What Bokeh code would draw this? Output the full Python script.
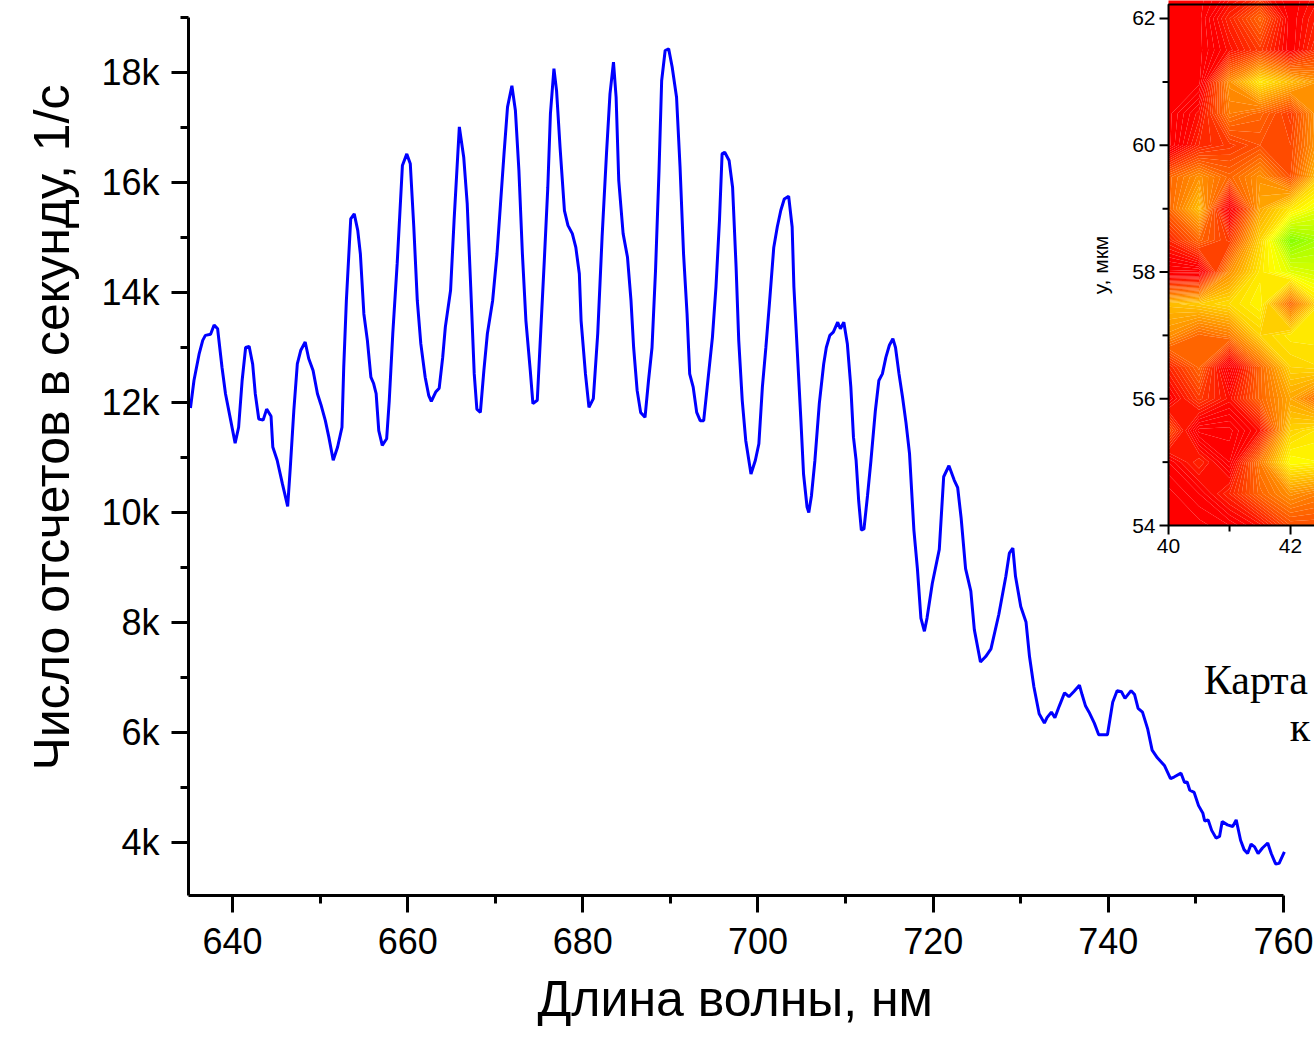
import numpy as np
from bokeh.plotting import figure
from bokeh.models import Range1d, FixedTicker, Label, Title
from bokeh.embed import file_html
from bokeh.resources import INLINE
from bokeh.core.properties import value

# ---------------- data: spectrum ----------------
WAVELENGTH = [
    635.2, 635.6, 636.2, 636.6, 636.9, 637.5, 637.9, 638.3, 638.8, 639.2, 639.8, 640.3, 640.7,
    641.1, 641.5, 641.9, 642.3, 642.6, 643.0, 643.5, 643.9, 644.4, 644.6, 645.1, 645.7, 646.3,
    646.6, 647.0, 647.4, 647.8, 648.3, 648.7, 649.2, 649.7, 650.1, 650.6, 651.0, 651.5, 652.0,
    652.5, 652.7, 653.0, 653.5, 653.9, 654.3, 654.6, 655.0, 655.4, 655.8, 656.1, 656.4, 656.7,
    657.1, 657.6, 657.9, 658.3, 658.8, 659.4, 659.9, 660.3, 660.7, 661.1, 661.5, 662.0, 662.4,
    662.7, 663.2, 663.6, 664.0, 664.3, 664.9, 665.3, 665.9, 666.4, 666.8, 667.2, 667.6, 667.9,
    668.3, 668.7, 669.1, 669.7, 670.2, 670.6, 671.0, 671.4, 671.9, 672.3, 672.7, 673.1, 673.5,
    674.0, 674.3, 674.8, 675.2, 675.6, 676.0, 676.3, 676.7, 677.0, 677.4, 677.9, 678.3, 678.8,
    679.2, 679.6, 679.8, 680.3, 680.7, 681.2, 681.7, 682.2, 682.7, 683.1, 683.5, 683.8, 684.1,
    684.6, 685.1, 685.5, 685.8, 686.2, 686.6, 687.1, 687.5, 687.9, 688.3, 688.7, 689.0, 689.4,
    689.8, 690.2, 690.7, 691.1, 691.5, 691.9, 692.2, 692.6, 693.0, 693.4, 693.8, 694.2, 694.8,
    695.2, 695.6, 695.9, 696.2, 696.7, 697.1, 697.5, 697.8, 698.2, 698.6, 699.2, 699.7, 700.1,
    700.5, 700.9, 701.3, 701.8, 702.2, 702.6, 703.0, 703.5, 703.9, 704.1, 704.5, 704.9, 705.2,
    705.6, 705.8, 706.1, 706.5, 707.0, 707.5, 707.8, 708.2, 708.6, 709.1, 709.4, 709.8, 710.2,
    710.6, 710.9, 711.2, 711.5, 711.8, 712.1, 712.5, 712.9, 713.4, 713.8, 714.2, 714.6, 715.0,
    715.4, 715.7, 716.1, 716.5, 716.9, 717.3, 717.8, 718.2, 718.6, 719.0, 719.3, 719.9, 720.7,
    721.2, 721.8, 722.4, 722.8, 723.2, 723.7, 724.3, 724.7, 725.4, 726.0, 726.6, 727.5, 728.3,
    728.7, 729.1, 729.4, 730.0, 730.6, 731.0, 731.5, 732.1, 732.7, 733.0, 733.5, 733.9, 734.4,
    735.0, 735.5, 736.1, 736.7, 737.0, 737.4, 737.8, 738.4, 738.9, 739.9, 740.5, 741.0, 741.5,
    741.9, 742.6, 743.0, 743.4, 743.9, 744.5, 745.0, 745.6, 746.4, 747.1, 747.5, 748.3, 748.7,
    749.0, 749.3, 749.8, 750.3, 750.8, 751.0, 751.4, 751.8, 752.3, 752.7, 753.0, 753.6, 754.2,
    754.6, 755.1, 755.5, 755.9, 756.3, 756.7, 757.1, 757.6, 758.2, 758.6, 759.1, 759.5, 760.1,
]
COUNTS = [
    11900, 12400, 12890, 13130, 13220, 13240, 13410, 13340, 12640, 12160, 11670, 11260, 11550,
    12400, 13000, 13020, 12700, 12160, 11700, 11680, 11880, 11750, 11190, 10950, 10520, 10110,
    10820, 11850, 12700, 12950, 13100, 12800, 12580, 12160, 11960, 11670, 11370, 10950, 11190,
    11550, 12640, 13850, 15340, 15430, 15130, 14700, 13610, 13130, 12460, 12350, 12160, 11490,
    11220, 11340, 12040, 13250, 14520, 16310, 16520, 16340, 15190, 13850, 13070, 12460, 12130,
    12020, 12190, 12260, 12820, 13370, 14040, 15310, 17010, 16460, 15610, 14100, 12520, 11880,
    11820, 12580, 13250, 13850, 14700, 15610, 16520, 17370, 17760, 17310, 16220, 14700, 13490,
    12580, 11980, 12040, 13310, 14580, 15910, 17250, 18070, 17670, 16640, 15490, 15220, 15070,
    14820, 14340, 13490, 12520, 11910, 12070, 13250, 15010, 16520, 17610, 18190, 17550, 16040,
    15070, 14640, 13850, 13000, 12220, 11820, 11730, 12400, 13000, 14400, 16220, 17850, 18400,
    18430, 18100, 17550, 16280, 14700, 13610, 12520, 12280, 11820, 11670, 11670, 12280, 13190,
    14100, 15310, 16520, 16550, 16400, 15910, 14460, 13130, 12040, 11310, 10700, 10950, 11250,
    12280, 13000, 13790, 14820, 15190, 15490, 15700, 15750, 15190, 14100, 12890, 11670, 10700,
    10100, 10000, 10300, 10950, 11980, 12700, 13000, 13220, 13280, 13460, 13340, 13460, 13070,
    12280, 11370, 10950, 10200, 9680, 9700, 10300, 10950, 11850, 12400, 12520, 12820, 13040,
    13160, 13000, 12520, 12100, 11630, 11070, 9680, 8980, 8080, 7840, 8080, 8710, 9330,
    10650, 10850, 10590, 10450, 9890, 8980, 8570, 7870, 7280, 7380, 7520, 8150, 8840,
    9260, 9350, 8840, 8290, 8010, 7380, 6830, 6340, 6170, 6270, 6370, 6270, 6480,
    6720, 6650, 6750, 6860, 6690, 6480, 6370, 6170, 5960, 5960, 6550, 6760, 6740,
    6620, 6760, 6690, 6440, 6370, 6060, 5680, 5540, 5400, 5160, 5190, 5260, 5090,
    5100, 4950, 4910, 4670, 4530, 4390, 4410, 4220, 4080, 4110, 4380, 4320, 4290,
    4410, 4040, 3870, 3800, 3970, 3920, 3800, 3900, 3990, 3800, 3610, 3620, 3830,
]

X_TICKS = [640, 660, 680, 700, 720, 740, 760]
X_TICK_LABELS = ["640", "660", "680", "700", "720", "740", "760"]
X_MINOR_TICKS = [650, 670, 690, 710, 730, 750]
Y_TICKS = [4000, 6000, 8000, 10000, 12000, 14000, 16000, 18000]
Y_TICK_LABELS = ["4k", "6k", "8k", "10k", "12k", "14k", "16k", "18k"]
Y_MINOR_TICKS = [3000, 5000, 7000, 9000, 11000, 13000, 15000, 17000, 19000]

X_TITLE = "Длина волны, нм"
Y_TITLE = "Число отсчетов в секунду, 1/с"

# ---------------- data: intensity map (inset) ----------------
MAP_X = [40.0, 40.5, 41.0, 41.5, 42.0, 42.5]
MAP_Y = [54.0, 54.5, 55.0, 55.5, 56.0, 56.5, 57.0, 57.5, 58.0,
         58.5, 59.0, 59.5, 60.0, 60.5, 61.0, 61.5, 62.0, 62.5]
MAP_Z = [
    [5, 5, 8, 15, 30, 30],
    [5, 10, 20, 35, 45, 40],
    [10, 20, 8, 40, 70, 68],
    [30, 5, 5, 15, 60, 65],
    [10, 25, 15, 35, 50, 35],
    [20, 35, 5, 35, 60, 62],
    [45, 35, 40, 60, 65, 65],
    [55, 58, 62, 68, 35, 65],
    [5, 5, 45, 65, 75, 78],
    [20, 35, 25, 60, 92, 85],
    [35, 55, 5, 50, 65, 75],
    [35, 45, 35, 45, 30, 60],
    [5, 20, 25, 30, 28, 50],
    [5, 15, 40, 35, 25, 50],
    [5, 5, 45, 65, 55, 45],
    [5, 5, 15, 25, 10, 25],
    [5, 5, 20, 35, 10, 20],
    [5, 5, 10, 15, 10, 15],
]
MAP_X_TICKS = [40, 42]
MAP_X_MINOR = [41]
MAP_Y_TICKS = [54, 56, 58, 60, 62]
MAP_Y_MINOR = [55, 57, 59, 61]
MAP_X_EXTENT = (40.0, 48.0)
MAP_Y_EXTENT = (54.0, 62.22)
MAP_Y_TITLE = "y, мкм"
CAPTION_1 = "Карта"
CAPTION_2 = "к"

# ---------------- styling ----------------
FONT = "Liberation Sans"
W, H = 1314, 1040

def map_color(v):
    if v <= 12:
        r, g = 255, 0
    elif v <= 70:
        r, g = 255, int(round(255 * (v - 12) / 58))
    else:
        r, g = int(round(255 * (1 - 0.65 * (v - 70) / 30))), 255
    return "#%02x%02x%02x" % (r, g, 0)

LEVELS = list(np.arange(0, 102, 2))
PALETTE = [map_color((LEVELS[i] + LEVELS[i + 1]) / 2) for i in range(len(LEVELS) - 1)]

p = figure(width=W, height=H,
           x_range=Range1d(634.976, 763.54), y_range=Range1d(3036, 19309),
           output_backend="svg", toolbar_location=None,
           min_border_left=188, min_border_right=0, min_border_top=0, min_border_bottom=145)
p.outline_line_color = None
p.grid.visible = False
p.background_fill_color = "white"
p.border_fill_color = "white"

# inset coordinate system (maps onto the same frame)
p.extra_x_ranges = {"ix": Range1d(23.934, 42.393)}
p.extra_y_ranges = {"iy": Range1d(48.162, 62.284)}

# main spectrum
p.line(WAVELENGTH, COUNTS, line_color="#0000ff", line_width=3)

# axes
for ax, ticks, minor, labels in ((p.xaxis[0], X_TICKS, X_MINOR_TICKS, X_TICK_LABELS),
                                 (p.yaxis[0], Y_TICKS, Y_MINOR_TICKS, Y_TICK_LABELS)):
    ax.ticker = FixedTicker(ticks=ticks, minor_ticks=minor)
    ax.major_label_overrides = dict(zip(ticks, labels))
    ax.axis_line_width = 3
    ax.axis_line_color = "black"
    ax.major_tick_line_width = 3
    ax.minor_tick_line_width = 3
    ax.major_tick_in = 0
    ax.major_tick_out = 17
    ax.minor_tick_in = 0
    ax.minor_tick_out = 8
    ax.major_label_text_font = FONT
    ax.major_label_text_font_size = "36px"
    ax.major_label_text_color = "black"

p.xaxis.bounds = (634.976, 760)
p.yaxis.bounds = (3036, 19000)
p.xaxis.major_label_standoff = 15
p.yaxis.major_label_standoff = 12

# axis titles (side-panel titles, placed as in the original layer)
title_style = dict(text_font=FONT, text_font_size="50px", text_font_style="normal",
                   text_color="black", align="left")
p.add_layout(Title(text=X_TITLE, offset=349, standoff=24, **title_style), "below")
p.add_layout(Title(text=Y_TITLE, offset=125, standoff=38, **title_style), "left")

# ---------------- inset map ----------------
cr = p.contour(x=MAP_X, y=MAP_Y, z=np.array(MAP_Z, dtype=float), levels=LEVELS, fill_color=PALETTE)
for r in (cr, cr.fill_renderer, cr.line_renderer):
    r.x_range_name = "ix"
    r.y_range_name = "iy"
cr.fill_renderer.glyph.line_color = cr.fill_renderer.glyph.fill_color
cr.fill_renderer.glyph.line_width = 1

p.quad(left=[MAP_X_EXTENT[0]], right=[MAP_X_EXTENT[1]], bottom=[MAP_Y_EXTENT[0]], top=[MAP_Y_EXTENT[1]],
       fill_color=None, line_color="black", line_width=2, x_range_name="ix", y_range_name="iy")

ik = dict(x_range_name="ix", y_range_name="iy", line_color="black", line_width=2, length_units="screen")
p.ray(x=[MAP_X_EXTENT[0]] * len(MAP_Y_TICKS), y=MAP_Y_TICKS, length=9, angle=np.pi, **ik)
p.ray(x=[MAP_X_EXTENT[0]] * len(MAP_Y_MINOR), y=MAP_Y_MINOR, length=6, angle=np.pi, **ik)
p.ray(x=MAP_X_TICKS, y=[MAP_Y_EXTENT[0]] * len(MAP_X_TICKS), length=9, angle=-np.pi / 2, **ik)
p.ray(x=MAP_X_MINOR, y=[MAP_Y_EXTENT[0]] * len(MAP_X_MINOR), length=6, angle=-np.pi / 2, **ik)

it = dict(x_range_name="ix", y_range_name="iy", text_font=value(FONT), text_font_size="21px",
          text_color="black")
p.text(x=[MAP_X_EXTENT[0]] * len(MAP_Y_TICKS), y=MAP_Y_TICKS, text=[str(v) for v in MAP_Y_TICKS],
       x_offset=-13, text_align="right", text_baseline="middle", **it)
p.text(x=MAP_X_TICKS, y=[MAP_Y_EXTENT[0]] * len(MAP_X_TICKS), text=[str(v) for v in MAP_X_TICKS],
       y_offset=13, text_align="center", text_baseline="top", **it)
p.text(x=[MAP_X_EXTENT[0]], y=[(MAP_Y_EXTENT[0] + MAP_Y_EXTENT[1]) / 2], text=[MAP_Y_TITLE],
       x_offset=-57, angle=np.pi / 2, text_align="center", text_baseline="bottom", **it)

# caption beside the map
p.add_layout(Label(x=750.9, y=6963, text=CAPTION_1, text_font="Liberation Serif",
                   text_font_size="42px", text_baseline="alphabetic", text_color="black"))
p.add_layout(Label(x=760.7, y=6091, text=CAPTION_2, text_font="Liberation Serif",
                   text_font_size="42px", text_baseline="alphabetic", text_color="black"))

open("out.html", "w").write(file_html(p, INLINE))
